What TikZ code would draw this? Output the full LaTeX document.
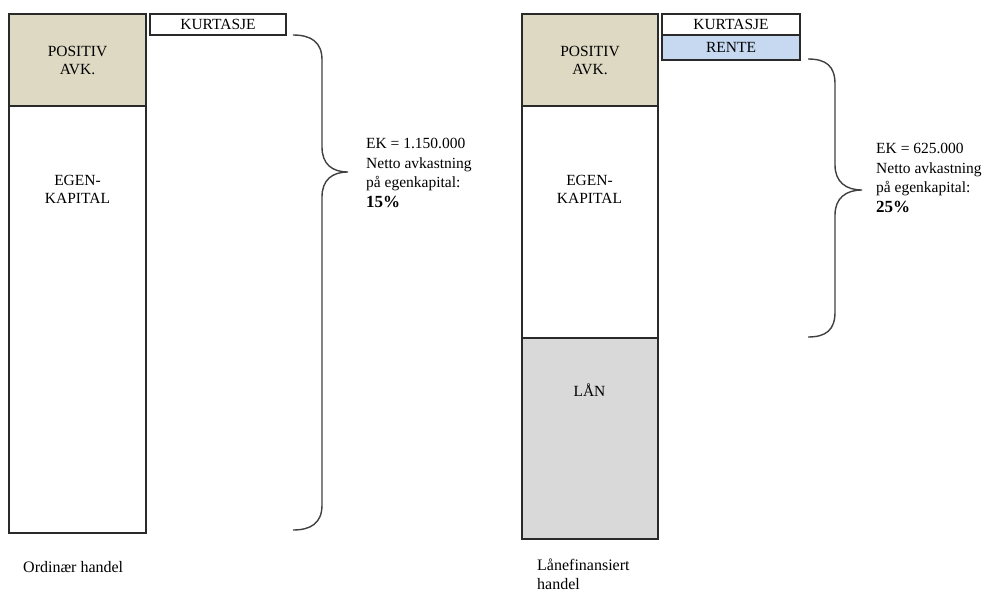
\documentclass[tikz,border=0pt]{standalone}
\usepackage{fontspec}
\setmainfont{Liberation Serif}
\definecolor{tan}{HTML}{DDD9C3}
\definecolor{renteblue}{HTML}{C6D9F1}
\definecolor{langray}{HTML}{D9D9D9}
\definecolor{edge}{HTML}{2A2A2A}
\begin{document}
\begin{tikzpicture}[x=1pt,y=-1pt,
  box/.style={draw=edge, line width=1.6pt, anchor=north west, inner sep=0pt, outer sep=0pt},
  lbl/.style={font=\rmfamily\fontsize{15.5}{18}\selectfont, align=center, inner sep=0pt, text=black},
  side/.style={font=\rmfamily\fontsize{15.5}{19.5}\selectfont, align=left, inner sep=0pt, anchor=north west},
  brace/.style={draw=black!75, line width=1.4pt}
]
\useasboundingbox (0,0) rectangle (992,597);
% left column
\node[box, fill=tan, minimum width=137pt, minimum height=92pt] (posL) at (9,14) {};
\node[box, fill=white, minimum width=137pt, minimum height=427pt] (ekL) at (9,106) {};
\node[box, fill=white, minimum width=136pt, minimum height=21pt] (kurL) at (150,14) {};
\node[lbl] (tposL) at (posL.center) {POSITIV\\AVK.};
\node[lbl] (tekL) at (77.5,189.5) {EGEN-\\KAPITAL};
\node[lbl] (tkurL) at (218,24) {KURTASJE};
% right column
\node[box, fill=tan, minimum width=136pt, minimum height=92pt] (posR) at (522,14) {};
\node[box, fill=white, minimum width=136pt, minimum height=232pt] (ekR) at (522,106) {};
\node[box, fill=langray, minimum width=136pt, minimum height=201pt] (lanR) at (522,338) {};
\node[box, fill=white, minimum width=138pt, minimum height=21pt] (kurR) at (662,14) {};
\node[box, fill=renteblue, minimum width=138pt, minimum height=25pt] (renR) at (662,35) {};
\node[lbl] (tposR) at (posR.center) {POSITIV\\AVK.};
\node[lbl] (tekR) at (589.5,189.5) {EGEN-\\KAPITAL};
\node[lbl] (tlanR) at (589.5,390) {LÅN};
\node[lbl] (tkurR) at (731,24) {KURTASJE};
\node[lbl] (trenR) at (731,47) {RENTE};
% braces
\coordinate (bLt) at (293,35);
\coordinate (bLm) at (348,172);
\coordinate (bLb) at (293,530);
\draw[brace] (bLt) .. controls ++(18,0) and ++(0,-18) .. (322,60)
  -- (322,147) .. controls ++(0,17) and ++(-16,0) .. (bLm)
  .. controls ++(-16,0) and ++(0,-17) .. (322,197)
  -- (322,505) .. controls ++(0,18) and ++(18,0) .. (bLb);
\coordinate (bRt) at (808,59);
\coordinate (bRm) at (862,190);
\coordinate (bRb) at (808,337);
\draw[brace] (bRt) .. controls ++(18,0) and ++(0,-18) .. (835,84)
  -- (835,165) .. controls ++(0,17) and ++(-16,0) .. (bRm)
  .. controls ++(-16,0) and ++(0,-17) .. (835,215)
  -- (835,312) .. controls ++(0,18) and ++(18,0) .. (bRb);
% side texts
\node[side] (sL) at (366,138) {EK = 1.150.000\\Netto avkastning\\på egenkapital:\\{\fontsize{17}{19.5}\selectfont\bfseries 15\%}};
\node[side] (sR) at (876,143) {EK = 625.000\\Netto avkastning\\på egenkapital:\\{\fontsize{17}{19.5}\selectfont\bfseries 25\%}};
% captions
\node[side, font=\rmfamily\fontsize{16}{19}\selectfont] (capL) at (23,561) {Ordinær handel};
\node[side, font=\rmfamily\fontsize{16}{19}\selectfont] (capR) at (537,559) {Lånefinansiert\\handel};
\end{tikzpicture}
\end{document}
